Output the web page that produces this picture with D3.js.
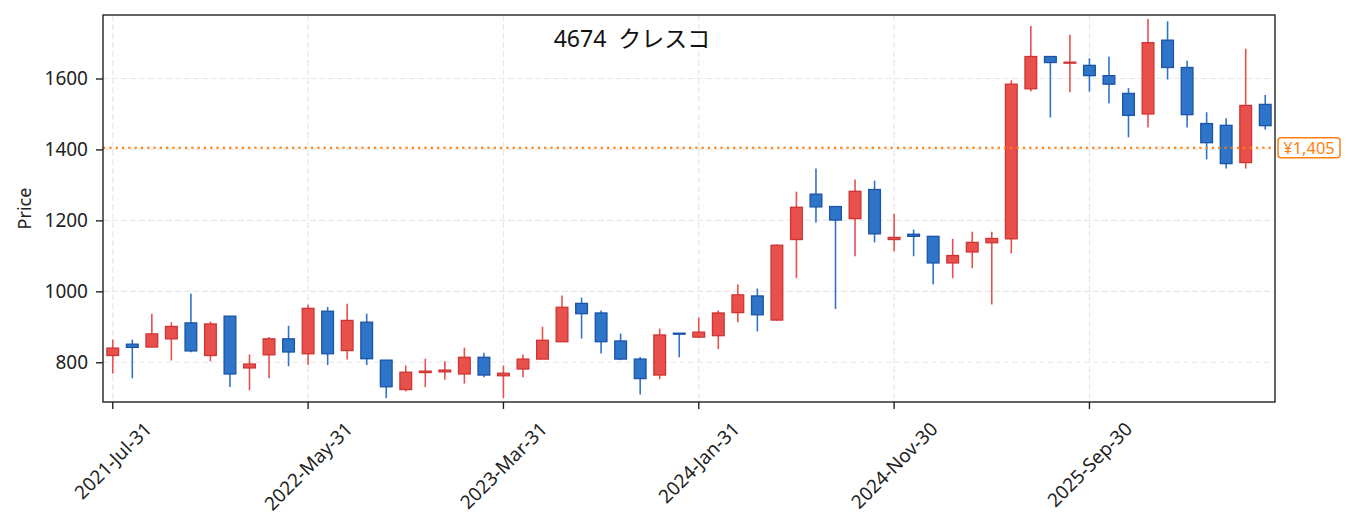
<!DOCTYPE html>
<html>
<head>
<meta charset="utf-8">
<script src="https://cdn.jsdelivr.net/npm/d3@7"></script>
<style>
  body { margin: 0; background: #fff; }
  svg { display: block; font-family: "Noto Sans", "Noto Sans CJK JP", sans-serif; }
</style>
</head>
<body>
<svg class="chart" width="1353" height="531"></svg>
<script>
// monthly candles, 4674 クレスコ
var dates = ["2021-07-31","2021-08-31","2021-09-30","2021-10-31","2021-11-30","2021-12-31",
  "2022-01-31","2022-02-28","2022-03-31","2022-04-30","2022-05-31","2022-06-30","2022-07-31","2022-08-31","2022-09-30","2022-10-31","2022-11-30","2022-12-31",
  "2023-01-31","2023-02-28","2023-03-31","2023-04-30","2023-05-31","2023-06-30","2023-07-31","2023-08-31","2023-09-30","2023-10-31","2023-11-30","2023-12-31",
  "2024-01-31","2024-02-29","2024-03-31","2024-04-30","2024-05-31","2024-06-30","2024-07-31","2024-08-31","2024-09-30","2024-10-31","2024-11-30","2024-12-31",
  "2025-01-31","2025-02-28","2025-03-31","2025-04-30","2025-05-31","2025-06-30","2025-07-31","2025-08-31","2025-09-30","2025-10-31","2025-11-30","2025-12-31",
  "2026-01-31","2026-02-28","2026-03-31","2026-04-30","2026-05-31","2026-06-30"]
var open = [819,851,843,866,911,819,930,784,821,866, 824,944,833,913,806,723,771,773,767,814,
  762,781,809,858,966,939,860,809,764,882, 871,875,940,987,919,1146,1274,1239,1205,1287,
  1146,1161,1155,1080,1111,1137,1148,1571,1662,1644, 1637,1608,1558,1500,1708,1631,1473,1468,1363,1527]
var high = [864,864,937,913,993,915,930,822,871,903, 962,956,965,937,806,791,810,803,841,827,
  791,822,900,988,982,946,881,815,895,882, 926,946,1019,1008,1132,1281,1346,1240,1315,1312,
  1219,1174,1156,1148,1168,1168,1595,1748,1663,1723, 1657,1661,1573,1768,1761,1650,1505,1488,1684,1554]
var low = [768,755,842,805,828,803,730,721,755,789, 792,792,808,792,699,718,730,751,740,758,
  699,758,809,858,867,825,806,709,752,814, 868,837,913,887,917,1037,1194,950,1099,1138,
  1113,1099,1020,1037,1065,963,1107,1563,1490,1561, 1563,1530,1434,1462,1597,1462,1372,1346,1346,1456]
var close = [840,842,880,901,832,908,767,795,866,829, 952,824,918,810,731,772,775,778,814,764,
  769,809,862,955,937,858,809,754,877,881, 885,939,990,934,1130,1237,1238,1201,1282,1162,
  1152,1155,1080,1101,1138,1149,1584,1662,1645,1646, 1608,1584,1496,1701,1631,1498,1419,1360,1524,1467]
var yTicks = [800, 1000, 1200, 1400, 1600]
var tickEvery = 10
var refPrice = 1405
var title = "4674  クレスコ"

var pLeft = 103, pRight = 1275, pTop = 15, pBottom = 402
var upFill = "#e8504c", upEdge = "#cf3434"
var dnFill = "#2e74c8", dnEdge = "#1b53a6"

var svg = d3.select(".chart")
var parse = d3.timeParse("%Y-%m-%d")
var fmt = d3.timeFormat("%Y-%b-%d")

var candles = dates.map(function(d, i) {
    return {date: d, o: open[i], h: high[i], l: low[i], c: close[i]}
})

var x = d3.scaleBand()
    .domain(dates)
    .range([pLeft, pRight])
var y = d3.scaleLinear()
    .domain([688, 1779])
    .range([pBottom, pTop])

var cx = function(d) { return x(d) + x.bandwidth() / 2 }
var bw = x.bandwidth() * 0.6

// grid
var tickDates = dates.filter(function(d, i) { return i % tickEvery == 0 })
svg.append("g").selectAll("line").data(tickDates).enter().append("line")
    .attr("x1", cx).attr("x2", cx).attr("y1", pTop).attr("y2", pBottom)
    .attr("stroke", "#e8e8e8").attr("stroke-width", 1.2).attr("stroke-dasharray", "6,3")
svg.append("g").selectAll("line").data(yTicks).enter().append("line")
    .attr("x1", pLeft).attr("x2", pRight).attr("y1", y).attr("y2", y)
    .attr("stroke", "#e8e8e8").attr("stroke-width", 1.2).attr("stroke-dasharray", "6,3")

// wicks
svg.append("g").selectAll("line").data(candles).enter().append("line")
    .attr("x1", function(d) { return cx(d.date) })
    .attr("x2", function(d) { return cx(d.date) })
    .attr("y1", function(d) { return y(d.h) })
    .attr("y2", function(d) { return y(d.l) })
    .attr("stroke", function(d) { return d.c >= d.o ? upFill : dnFill })
    .attr("stroke-width", 1.6)

// bodies
svg.append("g").selectAll("rect").data(candles).enter().append("rect")
    .attr("x", function(d) { return cx(d.date) - bw / 2 })
    .attr("width", bw)
    .attr("y", function(d) { return y(Math.max(d.o, d.c)) })
    .attr("height", function(d) { return Math.max(1, Math.abs(y(d.o) - y(d.c))) })
    .attr("fill", function(d) { return d.c >= d.o ? upFill : dnFill })
    .attr("stroke", function(d) { return d.c >= d.o ? upEdge : dnEdge })
    .attr("stroke-width", 1.3)

// reference line
svg.append("line")
    .attr("x1", pLeft).attr("x2", pRight)
    .attr("y1", y(refPrice)).attr("y2", y(refPrice))
    .attr("stroke", "#ff7f0e").attr("stroke-width", 2)
    .attr("stroke-dasharray", "2.4,3.9")

// frame
svg.append("rect")
    .attr("x", pLeft).attr("y", pTop)
    .attr("width", pRight - pLeft).attr("height", pBottom - pTop)
    .attr("fill", "none").attr("stroke", "#222").attr("stroke-width", 1.4)

// y axis
var yAxis = svg.append("g")
    .attr("transform", "translate(" + pLeft + ",0)")
    .call(d3.axisLeft(y).tickValues(yTicks).tickFormat(d3.format("d")).tickSize(7).tickPadding(8))
yAxis.select(".domain").remove()
yAxis.selectAll("line").attr("stroke", "#222").attr("stroke-width", 1.4)
yAxis.selectAll("text").attr("font-size", 19).attr("fill", "#222")
    .attr("font-family", "Noto Sans")

// x axis
var xFont = 19
var xg = svg.append("g")
xg.selectAll("line").data(tickDates).enter().append("line")
    .attr("x1", cx).attr("x2", cx).attr("y1", pBottom).attr("y2", pBottom + 7)
    .attr("stroke", "#222").attr("stroke-width", 1.4)
xg.selectAll("text").data(tickDates).enter().append("text")
    .text(function(d) { return fmt(parse(d)) })
    .attr("font-size", xFont).attr("fill", "#222")
    .attr("text-anchor", "middle")
    .attr("dominant-baseline", "central")
    .attr("transform", function(d) {
        var w = this.getComputedTextLength()
        var half = (w + xFont * 0.8) * 0.3536
        return "translate(" + cx(d) + "," + (420 + half) + ") rotate(-45)"
    })

// labels
svg.append("text")
    .attr("transform", "translate(31," + ((pTop + pBottom) / 2) + ") rotate(-90)")
    .attr("text-anchor", "middle")
    .attr("font-size", 18).attr("fill", "#222")
    .text("Price")

svg.append("text")
    .attr("x", 632).attr("y", 47)
    .attr("text-anchor", "middle")
    .attr("font-size", 23).attr("fill", "#111")
    .style("white-space", "pre")
    .text(title)

// price tag
var tag = svg.append("g").attr("transform", "translate(1278," + y(refPrice) + ")")
tag.append("rect")
    .attr("x", 0).attr("y", -10).attr("width", 62).attr("height", 20).attr("rx", 3)
    .attr("fill", "#fff").attr("stroke", "#ff7f0e").attr("stroke-width", 1.5)
tag.append("text")
    .attr("x", 31).attr("y", 0)
    .attr("text-anchor", "middle").attr("dominant-baseline", "central")
    .attr("font-size", 16.5).attr("fill", "#ff7f0e")
    .text("¥" + d3.format(",")(refPrice))
</script>
</body>
</html>
